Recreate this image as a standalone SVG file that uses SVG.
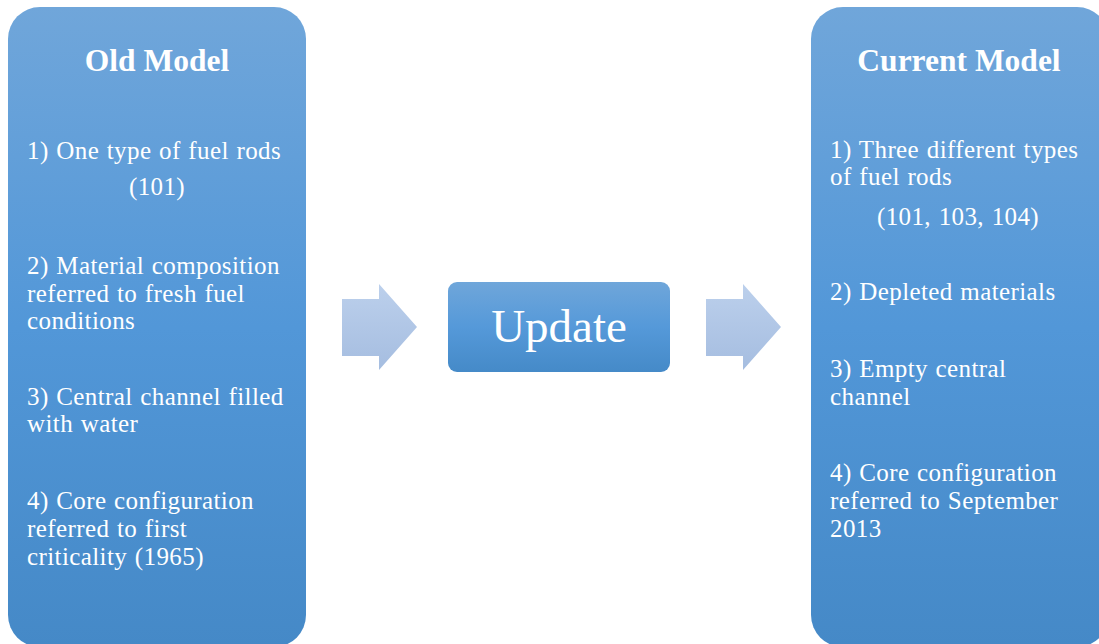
<svg xmlns="http://www.w3.org/2000/svg" width="1099" height="644" viewBox="0 0 1099 644">
<defs>
<linearGradient id="panel" x1="0" y1="0" x2="0" y2="1">
<stop offset="0" stop-color="#70a6da"/>
<stop offset="0.5" stop-color="#5297d8"/>
<stop offset="1" stop-color="#4589c7"/>
</linearGradient>
<linearGradient id="upd" x1="0" y1="0" x2="0" y2="1">
<stop offset="0" stop-color="#6fa6da"/>
<stop offset="0.5" stop-color="#5599d9"/>
<stop offset="1" stop-color="#458ac8"/>
</linearGradient>
<linearGradient id="arr" x1="0" y1="0" x2="0" y2="1">
<stop offset="0" stop-color="#bcd0ec"/>
<stop offset="1" stop-color="#a5bde0"/>
</linearGradient>
<style>
.t{font-family:"Liberation Serif","Times New Roman",serif;fill:#fff;font-size:25px;letter-spacing:0.4px;word-spacing:1px}
.h{font-family:"Liberation Serif","Times New Roman",serif;fill:#fff;font-size:31.5px;font-weight:bold}
.u{font-family:"Liberation Serif","Times New Roman",serif;fill:#fff;font-size:47px}
</style>
</defs>
<rect width="1099" height="644" fill="#fff"/>
<g id="old-model">
<rect x="8" y="7" width="298" height="640" rx="32" fill="url(#panel)"/>
<text class="h" x="157" y="71" text-anchor="middle">Old Model</text>
<text class="t" x="27" y="159">1) One type of fuel rods</text>
<text class="t" x="157" y="195" text-anchor="middle">(101)</text>
<text class="t" x="27" y="274">2) Material composition</text>
<text class="t" x="27" y="302">referred to fresh fuel</text>
<text class="t" x="27" y="329">conditions</text>
<text class="t" x="27" y="405">3) Central channel filled</text>
<text class="t" x="27" y="432">with water</text>
<text class="t" x="27" y="509">4) Core configuration</text>
<text class="t" x="27" y="537">referred to first</text>
<text class="t" x="27" y="565">criticality (1965)</text>
</g>
<g id="connectors">
<polygon points="342,299 379,299 379,284 417,327 379,370 379,356 342,356" fill="url(#arr)"/>
<polygon points="706,299 743,299 743,284 781,327 743,370 743,356 706,356" fill="url(#arr)"/>
</g>
<g id="update">
<rect x="448" y="282" width="222" height="90" rx="9" fill="url(#upd)"/>
<text class="u" x="559" y="342" text-anchor="middle">Update</text>
</g>
<g id="current-model">
<rect x="811" y="7" width="298" height="640" rx="32" fill="url(#panel)"/>
<text class="h" x="959" y="71" text-anchor="middle">Current Model</text>
<text class="t" x="830" y="158">1) Three different types</text>
<text class="t" x="830" y="185">of fuel rods</text>
<text class="t" x="958" y="225" text-anchor="middle">(101, 103, 104)</text>
<text class="t" x="830" y="300">2) Depleted materials</text>
<text class="t" x="830" y="377">3) Empty central</text>
<text class="t" x="830" y="405">channel</text>
<text class="t" x="830" y="481">4) Core configuration</text>
<text class="t" x="830" y="509">referred to September</text>
<text class="t" x="830" y="537">2013</text>
</g>
</svg>
